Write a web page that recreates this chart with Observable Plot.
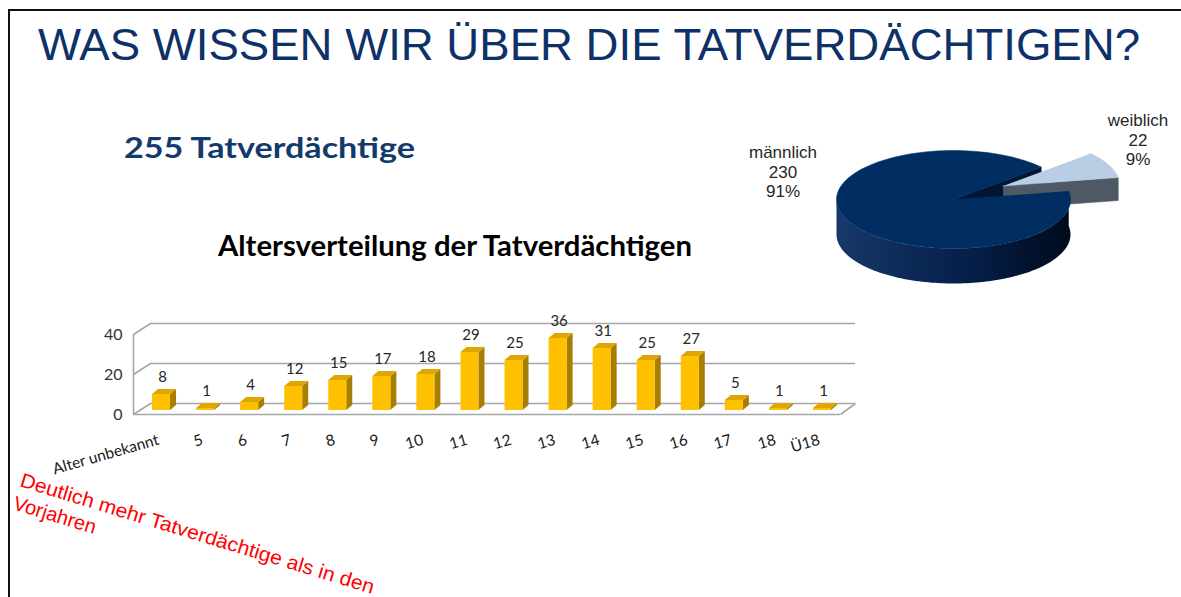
<!DOCTYPE html>
<html>
<head>
<meta charset="utf-8">
<script src="https://cdn.jsdelivr.net/npm/d3@7"></script>
<script src="https://cdn.jsdelivr.net/npm/@observablehq/plot@0.6"></script>
<style>
html, body { margin: 0; padding: 0; background: #fff; }
#page { position: relative; width: 1181px; height: 597px; overflow: hidden; background: #fff; }
.lbl { position: absolute; font-family: "Liberation Sans", Arial, sans-serif; font-size: 17px; line-height: 19.5px; color: #262626; text-align: center; white-space: nowrap; }
</style>
</head>
<body>
<div id="page"></div>
<script>
// ---------- data ----------
const pageTitle = "WAS WISSEN WIR ÜBER DIE TATVERDÄCHTIGEN?";
const totalSuspects = 255;
const chartTitle = "Altersverteilung der Tatverdächtigen";
const note = ["Deutlich mehr Tatverdächtige als in den", "Vorjahren"];

const ageCategories = ["Alter unbekannt", "5", "6", "7", "8", "9", "10", "11", "12", "13", "14", "15", "16", "17", "18", "Ü18"];
const ageCounts = [8, 1, 4, 12, 15, 17, 18, 29, 25, 36, 31, 25, 27, 5, 1, 1];
const yTicks = [0, 20, 40];

const genderLabels = ["männlich", "weiblich"];
const genderCounts = [230, 22];

// ---------- page ----------
const page = document.getElementById("page");

// ---------- bar chart (pseudo 3D) ----------
const BW = 880, BH = 190, ML = 139, MR = 36, MT = 30, MB = 80;
const ux = (BW - ML - MR) / 16;       // px per category unit
const uy = (BH - MT - MB) / 40;       // px per count unit
const px = p => p / ux, py = p => p / uy;
const half = px(9), ddx = px(6), ddy = py(5);
const backDx = px(11), backDy = py(7), frontDx = px(-6), frontDy = py(-4);

const bars = ageCategories.map((c, i) => ({i, c, v: ageCounts[i]}));
const sideArea = bars.flatMap(d => [
  {id: d.i, x: d.i + half, y1: 0, y2: d.v},
  {id: d.i, x: d.i + half + ddx, y1: ddy, y2: d.v + ddy}
]);
const topArea = bars.flatMap(d => [
  {id: d.i, y: d.v, x1: d.i - half, x2: d.i + half},
  {id: d.i, y: d.v + ddy, x1: d.i - half + ddx, x2: d.i + half + ddx}
]);
const x0 = -0.5, x1 = 15.5;
const grid = "#A6A6A6";

const barChart = Plot.plot({
  width: BW, height: BH,
  marginLeft: ML, marginRight: MR, marginTop: MT, marginBottom: MB,
  x: {domain: [x0, x1], axis: null},
  y: {domain: [0, 40], axis: null},
  style: {background: "transparent", overflow: "visible", fontFamily: "Lato, 'Open Sans', sans-serif"},
  marks: [
    // back wall gridlines
    Plot.ruleY(yTicks, {y: d => d + backDy, x1: x0 + backDx, x2: x1 + backDx, stroke: grid, strokeWidth: 1.6}),
    // left wall diagonals
    Plot.link(yTicks, {x1: x0 + frontDx, y1: d => d + frontDy, x2: x0 + backDx, y2: d => d + backDy, stroke: grid, strokeWidth: 1.6}),
    // left wall front edge
    Plot.ruleX([x0 + frontDx], {y1: yTicks[0] + frontDy, y2: yTicks[yTicks.length - 1] + frontDy, stroke: grid, strokeWidth: 1.6}),
    // floor front edge + right slant
    Plot.ruleY([0], {y: d => d + frontDy, x1: x0 + frontDx, x2: x1 + px(-4), stroke: grid, strokeWidth: 1.6}),
    Plot.link([0], {x1: x1 + px(-4), y1: d => d + frontDy, x2: x1 + backDx, y2: d => d + backDy, stroke: grid, strokeWidth: 1.6}),
    // bar side faces
    Plot.areaY(sideArea, {x: "x", y1: "y1", y2: "y2", z: "id", fill: "#A87E00"}),
    // bar top faces
    Plot.areaX(topArea, {y: "y", x1: "x1", x2: "x2", z: "id", fill: "#DDA600"}),
    // bar front faces
    Plot.rect(bars, {x1: d => d.i - half, x2: d => d.i + half, y1: 0, y2: "v", fill: "#FFC000"}),
    // value labels
    Plot.text(bars, {x: "i", y: "v", text: d => String(d.v), dy: -17, dx: 1, fontSize: 15, fill: "#262626"}),
    // category labels
    Plot.text(bars, {x: "i", y: 0, text: "c", rotate: -16, textAnchor: "end", dx: -3, dy: 29, fontSize: 15.5, fill: "#1a1a1a"}),
    // y tick labels
    Plot.text(yTicks, {x: x0, y: d => d, text: d => String(d), textAnchor: "end", dx: -17, dy: 4, fontSize: 16, fill: "#333"})
  ]
});
barChart.style.position = "absolute";
barChart.style.left = "0px";
barChart.style.top = "300px";
page.appendChild(barChart);

// ---------- 3D pie ----------
const PW = 360, PH = 190, R = 117, cxp = 153, cyp = 89;
const tilt = 49 / R, depth = 35 / R, fDepth = 23 / R, explode = 0.47;
const total = d3.sum(genderCounts);
const fStart = 10;
const fSpan = genderCounts[1] / total * 360;
const mStart = fStart + fSpan, mEnd = fStart + 360;
const rad = a => a * Math.PI / 180;
const P = (a, ox = 0, oy = 0, dz = 0) => ({x: ox + Math.cos(rad(a)), y: oy + Math.sin(rad(a)) * tilt - dz});
const steps = (a0, a1, n) => d3.range(n + 1).map(k => a0 + (a1 - a0) * k / n);

const maleTop = [{x: 0, y: 0}, ...steps(mStart, mEnd, 160).map(a => P(a))];
const wallArc = steps(180, mEnd, 120);
const maleWall = [...wallArc.map(a => P(a)), ...wallArc.slice().reverse().map(a => P(a, 0, 0, depth))];
const maleCut = [{x: 0, y: 0}, P(mStart), P(mStart, 0, 0, depth), {x: 0, y: -depth}];
const fMid = fStart + fSpan / 2;
const fox = explode * Math.cos(rad(fMid)), foy = explode * Math.sin(rad(fMid)) * tilt + 0.03;
const femaleTop = [{x: fox, y: foy}, ...steps(fStart, mStart, 30).map(a => P(a, fox, foy))];
const femaleSide = [{x: fox, y: foy}, P(fStart, fox, foy), P(fStart, fox, foy, fDepth), {x: fox, y: foy - fDepth}];

const WALL = "#0a2550";
const pie = Plot.plot({
  width: PW, height: PH, margin: 0,
  x: {domain: [-cxp / R, (PW - cxp) / R], range: [0, PW], axis: null},
  y: {domain: [-(PH - cyp) / R, cyp / R], range: [PH, 0], axis: null},
  style: {background: "transparent", overflow: "visible"},
  marks: [
    Plot.line(maleWall, {x: "x", y: "y", fill: WALL, stroke: "none"}),
    Plot.line(maleCut, {x: "x", y: "y", fill: "#001634", stroke: "#001634", strokeWidth: 0.5}),
    Plot.line(femaleSide, {x: "x", y: "y", fill: "#4E5965", stroke: "#4E5965", strokeWidth: 0.5}),
    Plot.line(femaleTop, {x: "x", y: "y", fill: "#B9CDE4", stroke: "#B9CDE4", strokeWidth: 0.5}),
    Plot.line(maleTop, {x: "x", y: "y", fill: "#002D62", stroke: "#002D62", strokeWidth: 0.5})
  ]
});
// horizontal shading of the pie's side wall
const NS = "http://www.w3.org/2000/svg";
const defs = document.createElementNS(NS, "defs");
defs.innerHTML = `<linearGradient id="maleWallGrad" x1="0" y1="0" x2="1" y2="0">
  <stop offset="0" stop-color="#18396b"/><stop offset="0.15" stop-color="#12315f"/>
  <stop offset="0.55" stop-color="#05204a"/><stop offset="1" stop-color="#000a1c"/></linearGradient>`;
pie.insertBefore(defs, pie.firstChild);
pie.querySelectorAll(`[fill="${WALL}"]`).forEach(el => el.setAttribute("fill", "url(#maleWallGrad)"));
pie.style.position = "absolute";
pie.style.left = "800px";
pie.style.top = "110px";
page.appendChild(pie);

// pie labels
const pct = genderCounts.map(v => Math.round(v / total * 100) + "%");
const labelPos = [{cx: 783, top: 143}, {cx: 1138, top: 111}];
genderLabels.forEach((g, i) => {
  const div = document.createElement("div");
  div.className = "lbl";
  div.style.left = (labelPos[i].cx - 50) + "px";
  div.style.width = "100px";
  div.style.top = labelPos[i].top + "px";
  div.innerHTML = `${g}<br>${genderCounts[i]}<br>${pct[i]}`;
  page.appendChild(div);
});

// ---------- slide decoration & texts ----------
const decor = document.createElementNS(NS, "svg");
decor.setAttribute("width", 1181);
decor.setAttribute("height", 597);
decor.style.position = "absolute";
decor.style.left = "0px";
decor.style.top = "0px";
decor.innerHTML = `
  <line x1="9" y1="10" x2="1181" y2="10" stroke="#111" stroke-width="2"/>
  <line x1="9" y1="9" x2="9" y2="597" stroke="#111" stroke-width="2"/>
  <text x="38" y="60" font-family="Liberation Sans, Arial, sans-serif" font-size="45" fill="#0E3168"
        textLength="1102" lengthAdjust="spacingAndGlyphs">${pageTitle}</text>
  <text x="124" y="158" font-family="Lato, sans-serif" font-weight="bold" font-size="29" fill="#123A6B"
        textLength="291" lengthAdjust="spacingAndGlyphs">${totalSuspects} Tatverdächtige</text>
  <text x="218" y="256" font-family="Lato, sans-serif" font-weight="bold" font-size="28" fill="#000"
        textLength="474" lengthAdjust="spacingAndGlyphs">${chartTitle}</text>
  <text transform="translate(19,486) rotate(17)" font-family="Liberation Sans, Arial, sans-serif" font-size="20" fill="#FF0000">
    <tspan x="0" y="0" textLength="369" lengthAdjust="spacingAndGlyphs">${note[0]}</tspan>
    <tspan x="0" y="24">${note[1]}</tspan>
  </text>`;
page.appendChild(decor);
</script>
</body>
</html>
